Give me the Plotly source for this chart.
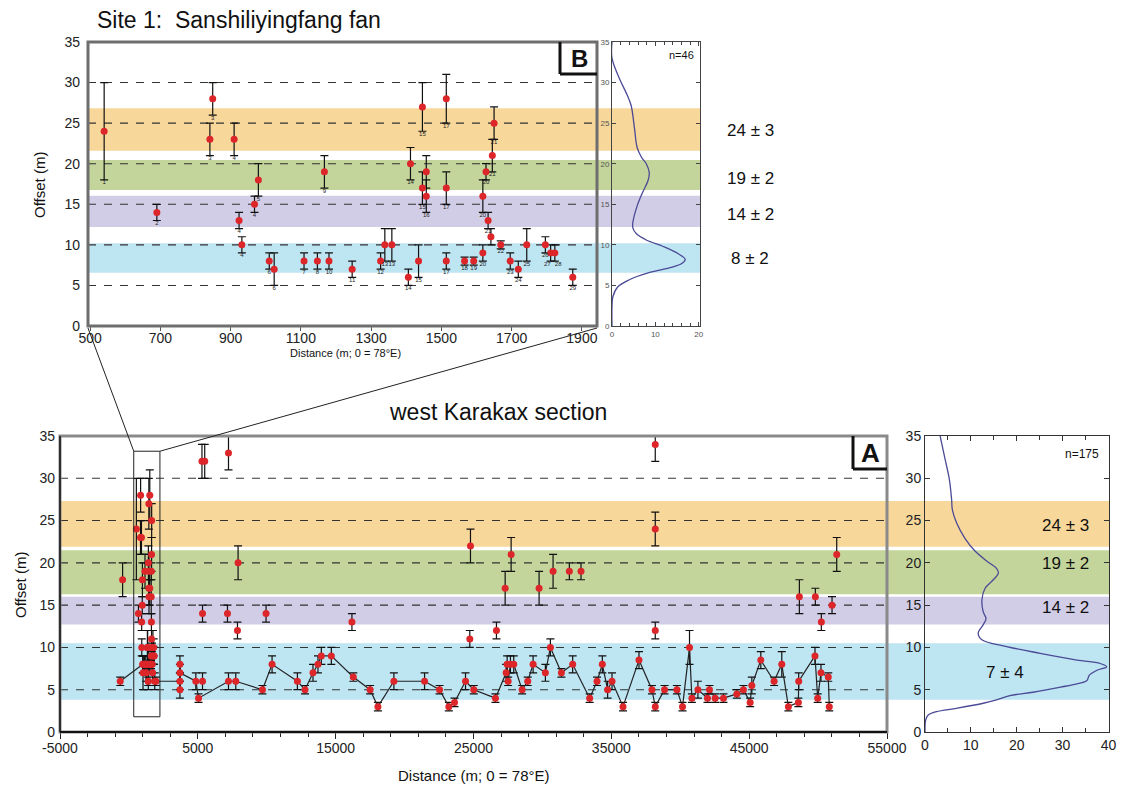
import plotly.graph_objects as go

W, H = 1124, 796

# ---------------- Panel B (Site 1) data ----------------
b_dist = [540, 690, 841, 849, 910, 924, 932, 968, 979, 1010, 1024, 1109, 1147, 1167, 1180,
          1246, 1327, 1339, 1359, 1406, 1412, 1435, 1446, 1446, 1457, 1457, 1514, 1514, 1514,
          1566, 1592, 1618, 1627, 1618, 1633, 1641, 1645, 1650, 1669, 1696, 1719, 1743, 1796,
          1811, 1823, 1874]
b_offset = [24, 14, 23, 28, 23, 13, 10, 15, 18, 8, 7, 8, 8, 19, 8,
            7, 8, 10, 10, 6, 20, 8, 27, 17, 19, 16, 28, 17, 8,
            8, 8, 16, 19, 9, 13, 11, 21, 25, 10, 8, 7, 10, 10,
            9, 9, 6]
b_err = [6, 1, 2, 2, 2, 1, 1, 1, 2, 1, 2, 1, 1, 2, 1,
         1, 1, 2, 2, 1, 2, 2, 3, 2, 2, 2, 3, 2, 1,
         0.5, 0.5, 2, 1, 1, 1, 1, 2, 2, 0.5, 1, 1, 2, 1,
         1, 1, 1]
b_labels = ["1", "2", "3", "3", "4", "4", "4", "4", "5", "6", "6", "7", "8", "9", "10",
            "11", "12", "13", "13", "14", "14", "15", "15", "15", "", "16", "17", "17", "17",
            "18", "19", "20", "20", "20", "21", "", "21", "21", "22", "23", "24", "25", "26",
            "27", "28", "29"]
b_xticks = [500, 700, 900, 1100, 1300, 1500, 1700, 1900]

# density curve, panel B
b_kde_dens = [0, 0, 1.7, 3.3, 4.4, 5.2, 5.8, 6.8, 7.9, 8.6, 8.3, 7.0, 5.8, 4.8, 4.8, 5.6,
              7.9, 11.8, 15.3, 16.9, 16.1, 13.4, 8.7, 4.0, 1.3, 0.2, 0, 0]
b_kde_off = [35, 33, 30.5, 28.7, 27.2, 24.3, 22.0, 20.8, 20.0, 18.9, 17.9, 16.4, 14.8, 12.7,
             12.1, 11.4, 10.6, 9.8, 8.9, 8.2, 7.7, 7.2, 6.6, 5.7, 4.8, 3.6, 2.4, 0]

# ---------------- Panel A (west Karakax) data ----------------
a_line_dist = [-630, 1010, 1400, 1960, 3700, 3700, 3700, 3700, 4855, 5050, 7224, 7753, 9688,
               10386, 12224, 12775, 13355, 13717, 13960, 14685, 16279, 17500, 18065, 19224,
               21449, 22536, 23210, 23623, 24420, 25021, 26593, 27368, 27440, 27512, 27680,
               27920, 28528, 28934, 29325, 30216, 30579, 31376, 32195, 33428, 33963, 34347,
               34731, 35050, 35847, 37006, 37948, 38187, 38860, 39758, 40164, 40672, 40846,
               41281, 41976, 42121, 42534, 43136, 44107, 44585, 45070, 45193, 45845, 46809,
               47366, 47845, 48570, 48594, 49775, 49971, 50210, 50740, 50812]
a_line_offset = [6, 8, 6, 6, 6, 5, 8, 7, 6, 4, 6, 6, 5,
                 8, 6, 5, 7, 8, 9, 9, 6.5, 5, 3, 6,
                 6, 5, 3, 3.5, 6, 5, 4, 7, 8, 6, 8,
                 8, 5, 6, 8, 7, 10, 7, 8, 4, 6, 8,
                 5, 6, 3, 8.5, 5, 3, 5, 5, 3, 10, 4,
                 5, 4, 5, 4, 4, 4.5, 5, 3.5, 5.5, 8.5, 6,
                 8, 3, 3.5, 6, 9, 4, 7, 6.5, 3]
a_line_err = [0.5, 1, 0.5, 0.5, 1, 1, 1, 1, 1, 0.5, 1, 1, 0.5,
              1, 1, 0.5, 1, 1, 1, 1, 0.5, 0.5, 0.5, 1,
              1, 0.5, 0.5, 0.5, 1, 0.5, 0.5, 1, 1, 0.5, 1,
              1, 0.5, 0.5, 1, 1, 1, 0.5, 1, 0.5, 0.5, 1,
              1, 1, 0.5, 1, 0.5, 0.5, 0.5, 0.5, 0.5, 2, 0.5,
              1, 0.5, 0.5, 0.5, 0.5, 0.5, 0.5, 0.5, 1, 1, 0.5,
              1.5, 0.5, 0.5, 1, 1, 0.5, 1, 0.5, 0.5]

a_pt_dist = [-457, 5300, 5500, 7224, 7920, 5340, 7150, 7876, 9950, 5340, 16180, 24781, 24732,
             26665, 27296, 27730, 29759, 30773, 31954, 32800, 38187, 38187, 38187, 48642,
             49801, 50236, 51012, 51353]
a_pt_offset = [18, 32, 32, 33, 20, 14, 14, 12, 14, 6, 13, 22, 11,
               12, 17, 21, 17, 19, 19, 19, 34, 24, 12, 16,
               16, 13, 15, 21]
a_pt_err = [2, 2, 2, 2, 2, 1, 1, 1, 1, 1, 1, 2, 1,
            1, 2, 2, 2, 2, 1, 1, 2, 2, 1, 2,
            1, 1, 1, 2]
a_xticks = [-5000, 5000, 15000, 25000, 35000, 45000, 55000]

# density curve, panel A
a_kde_dens = [3.3, 4.4, 5.3, 5.8, 5.96, 6.9, 8.7, 10.9, 13.5, 15.5, 16.0, 14.9, 13.1, 12.4,
              12.7, 13.3, 12.7, 11.6, 12.4, 17.8, 25.1, 33.1, 38.2, 39.6, 37.5, 35.8, 35.3,
              33.1, 29.5, 23.6, 18.5, 15.6, 12.7, 6.9, 2.5, 0.7, 0.15, 0]
a_kde_off = [35, 32.2, 29.9, 27.5, 26.3, 24.7, 22.9, 21.4, 20.2, 19.4, 18.8, 18.0, 17.0, 15.6,
             14.2, 13.4, 12.7, 11.7, 10.9, 10.1, 9.3, 8.5, 8.1, 7.7, 7.3, 6.7, 6.1,
             5.7, 5.3, 4.7, 4.3, 3.8, 3.4, 2.8, 2.4, 2.0, 1.4, 0]

# terrace bands
band_colors = ["#f8d79b", "#c4d59b", "#d2cde6", "#bee5f2"]
b_band_lo = [21.6, 16.75, 12.2, 6.55]
b_band_hi = [26.85, 20.45, 16.05, 10.2]
b_band_text = ["24 ± 3", "19 ± 2", "14 ± 2", "8 ± 2"]
a_band_lo = [21.9, 16.3, 12.7, 3.8]
a_band_hi = [27.3, 21.5, 16.0, 10.5]
a_band_text = ["24 ± 3", "19 ± 2", "14 ± 2", "7 ± 4"]
grid_levels = [5, 10, 15, 20, 25, 30]


def px(x):
    return x / W


def py(y):
    return 1 - y / H


FONT = "Liberation Sans, Arial, sans-serif"
RED = "rgb(220,38,42)"

B_L, B_R, B_T, B_B = 88, 597, 42, 326
BD_L, BD_R = 612, 700
A_L, A_R, A_T, A_B = 60, 887, 436, 732
AD_L, AD_R = 925, 1108.5

fig = go.Figure()

err_style = dict(type="data", color="#111", thickness=1.2, width=4)

label_pos = ["bottom center"] * len(b_labels)
label_pos[b_labels.index("27")] = "bottom left"
label_pos[b_labels.index("28")] = "bottom right"

fig.add_trace(go.Scatter(
    x=b_dist, y=b_offset, mode="markers",
    marker=dict(color=RED, size=7),
    error_y=dict(array=b_err, **err_style),
    xaxis="x", yaxis="y", showlegend=False))
fig.add_trace(go.Scatter(
    x=b_dist, y=[o - e for o, e in zip(b_offset, b_err)], mode="text",
    text=b_labels, textposition=label_pos,
    textfont=dict(size=6, color="#222", family=FONT),
    xaxis="x", yaxis="y", showlegend=False, hoverinfo="skip"))
fig.add_trace(go.Scatter(
    x=b_kde_dens, y=b_kde_off, mode="lines", line=dict(color="#4a4a96", width=1.3, shape="spline"),
    xaxis="x2", yaxis="y2", showlegend=False))

fig.add_trace(go.Scatter(
    x=a_line_dist, y=a_line_offset, mode="lines+markers",
    line=dict(color="#222", width=1.2),
    marker=dict(color=RED, size=7),
    error_y=dict(array=a_line_err, **err_style),
    xaxis="x3", yaxis="y3", showlegend=False))
fig.add_trace(go.Scatter(
    x=a_pt_dist, y=a_pt_offset, mode="markers",
    marker=dict(color=RED, size=7),
    error_y=dict(array=a_pt_err, **err_style),
    xaxis="x3", yaxis="y3", showlegend=False))
fig.add_trace(go.Scatter(
    x=b_dist, y=b_offset, mode="markers",
    marker=dict(color=RED, size=7),
    error_y=dict(array=b_err, **err_style),
    xaxis="x3", yaxis="y3", showlegend=False))
fig.add_trace(go.Scatter(
    x=a_kde_dens, y=a_kde_off, mode="lines", line=dict(color="#4a4a96", width=1.3, shape="spline"),
    xaxis="x4", yaxis="y4", showlegend=False))

shapes = []
for c, lo, hi in zip(band_colors, b_band_lo, b_band_hi):
    shapes.append(dict(type="rect", xref="paper", yref="y", x0=px(B_L), x1=px(BD_R),
                       y0=lo, y1=hi, fillcolor=c, line=dict(width=0), layer="below"))
for c, lo, hi in zip(band_colors, a_band_lo, a_band_hi):
    shapes.append(dict(type="rect", xref="paper", yref="y3", x0=px(A_L), x1=px(1110),
                       y0=lo, y1=hi, fillcolor=c, line=dict(width=0), layer="below"))
for g in grid_levels:
    shapes.append(dict(type="line", xref="x domain", yref="y", x0=0, x1=1, y0=g, y1=g,
                       line=dict(color="#333", width=1.1, dash="8px,8px"), layer="below"))
    shapes.append(dict(type="line", xref="x3 domain", yref="y3", x0=0, x1=1, y0=g, y1=g,
                       line=dict(color="#333", width=1.1, dash="8px,8px"), layer="below"))
shapes.append(dict(type="rect", xref="paper", yref="paper", x0=px(B_L), x1=px(B_R),
                   y0=py(B_B), y1=py(B_T), line=dict(color="#6e6e6e", width=3), layer="above"))
shapes.append(dict(type="rect", xref="paper", yref="paper", x0=px(A_L), x1=px(A_R),
                   y0=py(A_B), y1=py(A_T), line=dict(color="#8a8a8a", width=3), layer="above"))
shapes.append(dict(type="line", xref="paper", yref="paper", x0=px(A_L), x1=px(A_R),
                   y0=py(A_B), y1=py(A_B), line=dict(color="#111", width=2), layer="above"))
shapes.append(dict(type="line", xref="paper", yref="paper", x0=px(A_L), x1=px(A_L),
                   y0=py(A_B), y1=py(A_T), line=dict(color="#111", width=1.5), layer="above"))
shapes.append(dict(type="line", xref="paper", yref="paper", x0=px(560), x1=px(560),
                   y0=py(B_T), y1=py(74), line=dict(color="#111", width=3), layer="above"))
shapes.append(dict(type="line", xref="paper", yref="paper", x0=px(560), x1=px(B_R),
                   y0=py(74), y1=py(74), line=dict(color="#111", width=3), layer="above"))
shapes.append(dict(type="line", xref="paper", yref="paper", x0=px(853), x1=px(853),
                   y0=py(A_T), y1=py(469), line=dict(color="#111", width=3), layer="above"))
shapes.append(dict(type="line", xref="paper", yref="paper", x0=px(853), x1=px(A_R),
                   y0=py(469), y1=py(469), line=dict(color="#111", width=3), layer="above"))

rx0, rx1, ry0, ry1 = 350, 2250, 1.8, 33.2
shapes.append(dict(type="rect", xref="x3", yref="y3", x0=rx0, x1=rx1, y0=ry0, y1=ry1,
                   line=dict(color="#222", width=1), layer="above"))


def a_px(xd):
    return A_L + (xd + 5000) / 60000 * (A_R - A_L)


def a_py(yd):
    return A_B - yd / 35 * (A_B - A_T)


shapes.append(dict(type="line", xref="paper", yref="paper", x0=px(B_L), y0=py(B_B + 2),
                   x1=px(a_px(rx0)), y1=py(a_py(ry1)), line=dict(color="#222", width=1)))
shapes.append(dict(type="line", xref="paper", yref="paper", x0=px(a_px(rx1)), y0=py(a_py(ry1)),
                   x1=px(B_R), y1=py(B_B + 2), line=dict(color="#222", width=1)))

annotations = [
    dict(text="Site 1:  Sanshiliyingfang fan", x=px(95), y=py(20), xanchor="left", yanchor="middle",
         font=dict(size=23, family=FONT, color="#111")),
    dict(text="west Karakax section", x=px(498), y=py(412), xanchor="center", yanchor="middle",
         font=dict(size=23, family=FONT, color="#111")),
    dict(text="Distance (m; 0 = 78°E)", x=px(345), y=py(353), xanchor="center", yanchor="middle",
         font=dict(size=11, family=FONT, color="#111")),
    dict(text="Distance (m; 0 = 78°E)", x=px(473), y=py(775), xanchor="center", yanchor="middle",
         font=dict(size=15, family=FONT, color="#111")),
    dict(text="Offset (m)", x=px(40), y=py(185), textangle=-90, xanchor="center", yanchor="middle",
         font=dict(size=15, family=FONT, color="#111")),
    dict(text="Offset (m)", x=px(20), y=py(585), textangle=-90, xanchor="center", yanchor="middle",
         font=dict(size=15, family=FONT, color="#111")),
    dict(text="n=46", x=px(696), y=py(55), xanchor="right", yanchor="middle",
         font=dict(size=11, family=FONT, color="#111")),
    dict(text="n=175", x=px(1101), y=py(454), xanchor="right", yanchor="middle",
         font=dict(size=12, family=FONT, color="#111")),
    dict(text="<b>B</b>", x=px(579), y=py(58), xanchor="center", yanchor="middle",
         font=dict(size=24, family=FONT, color="#111")),
    dict(text="<b>A</b>", x=px(870), y=py(453), xanchor="center", yanchor="middle",
         font=dict(size=26, family=FONT, color="#111")),
]
b_text_y = [131, 178, 215, 258]
for t, yy in zip(b_band_text, b_text_y):
    annotations.append(dict(text=t, x=px(750), y=py(yy), xanchor="center", yanchor="middle",
                            font=dict(size=17, family=FONT, color="#111")))
a_text_pos = [(1065, 525), (1065, 563), (1065, 607), (1005, 672)]
for t, (xx, yy) in zip(a_band_text, a_text_pos):
    annotations.append(dict(text=t, x=px(xx), y=py(yy), xanchor="center", yanchor="middle",
                            font=dict(size=17, family=FONT, color="#111")))
for a in annotations:
    a.update(xref="paper", yref="paper", showarrow=False)

tick_main = dict(size=14, family=FONT, color="#222")
tick_small = dict(size=8, family=FONT, color="#555")

fig.update_layout(
    width=W, height=H, autosize=False,
    margin=dict(l=0, r=0, t=0, b=0, autoexpand=False),
    paper_bgcolor="white", plot_bgcolor="rgba(0,0,0,0)",
    showlegend=False,
    shapes=shapes, annotations=annotations,
    xaxis=dict(domain=[px(B_L), px(B_R)], range=[494, 1943], anchor="y",
               tickvals=b_xticks, ticktext=[str(v) for v in b_xticks],
               ticks="outside", ticklen=4, tickcolor="#555", showgrid=False, zeroline=False,
               showline=False, tickfont=tick_main, ticklabelstandoff=-5, automargin=False),
    yaxis=dict(domain=[py(B_B), py(B_T)], range=[0, 35], anchor="x", dtick=5,
               ticks="", showgrid=False, zeroline=False, showline=False, tickfont=tick_main,
               ticklabelstandoff=7, automargin=False),
    xaxis2=dict(domain=[px(BD_L), px(BD_R)], range=[0, 20.3], anchor="y2",
                tickvals=[0, 10, 20], ticks="inside", ticklen=4, tickcolor="#444",
                minor=dict(dtick=2, ticklen=3, ticks="inside", tickcolor="#444"),
                showline=True, linecolor="#444", linewidth=1, mirror="ticks",
                showgrid=False, zeroline=False, tickfont=tick_small, automargin=False),
    yaxis2=dict(domain=[py(B_B), py(B_T)], range=[0, 35], anchor="x2", dtick=5,
                ticks="inside", ticklen=4, tickcolor="#444",
                showline=True, linecolor="#444", linewidth=1, mirror="ticks",
                showgrid=False, zeroline=False, tickfont=tick_small, automargin=False),
    xaxis3=dict(domain=[px(A_L), px(A_R)], range=[-5000, 55000], anchor="y3",
                tickvals=a_xticks, ticktext=[str(v) for v in a_xticks],
                ticks="outside", ticklen=6, tickcolor="#222",
                minor=dict(tick0=-5000, dtick=2000, ticklen=4, ticks="outside", tickcolor="#222"),
                showgrid=False, zeroline=False, showline=False, tickfont=tick_main,
                ticklabelstandoff=-3, automargin=False),
    yaxis3=dict(domain=[py(A_B), py(A_T)], range=[0, 35], anchor="x3", dtick=5,
                ticks="", showgrid=False, zeroline=False, showline=False, tickfont=tick_main,
                ticklabelstandoff=4, automargin=False),
    xaxis4=dict(domain=[px(AD_L), px(AD_R)], range=[0, 40], anchor="y4", dtick=10,
                ticks="inside", ticklen=5, tickcolor="#333",
                minor=dict(dtick=5, ticklen=4, ticks="inside", tickcolor="#333"),
                showline=True, linecolor="#333", linewidth=1, mirror="ticks",
                showgrid=False, zeroline=False, tickfont=tick_main, automargin=False),
    yaxis4=dict(domain=[py(A_B), py(A_T)], range=[0, 35], anchor="x4", dtick=5,
                ticks="inside", ticklen=5, tickcolor="#333",
                showline=True, linecolor="#333", linewidth=1, mirror="ticks",
                showgrid=False, zeroline=False, tickfont=tick_main, automargin=False),
)

fig.write_html("out.html", config={"displayModeBar": False},
               post_script="document.body.style.margin='0px';")
